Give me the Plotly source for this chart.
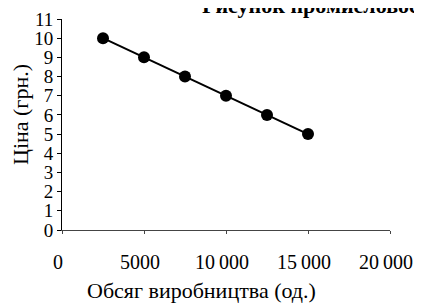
import plotly.graph_objects as go

quantity = [2500, 5000, 7500, 10000, 12500, 15000]
price = [10, 9, 8, 7, 6, 5]
x_tickvals = [0, 5000, 10000, 15000, 20000]
x_ticktext = ["0", "5000", "10\u2009000", "15\u2009000", "20\u2009000"]
y_tickvals = list(range(0, 12))

SERIF = "Liberation Serif, Times New Roman, serif"

# page has an 8px body margin; layout coords below compensate for it
L, R, T, B = 54, 40, 11, 82
PW, PH = 422 - L - R, 304 - T - B


def px(xl):
    return (xl - L) / PW


def py(yl):
    return (T + PH - yl) / PH


fig = go.Figure()
fig.add_trace(go.Scatter(
    x=quantity, y=price, mode="lines+markers",
    line=dict(color="black", width=2),
    marker=dict(color="black", size=12),
    showlegend=False, cliponaxis=False,
))

fig.update_layout(
    template="none",
    width=422, height=304,
    margin=dict(l=L, r=R, t=T, b=B),
    paper_bgcolor="white", plot_bgcolor="white",
    font=dict(family=SERIF, color="black"),
    xaxis=dict(
        range=[0, 20000], tickvals=x_tickvals, ticktext=x_ticktext,
        showgrid=False, zeroline=False, showline=True, linecolor="#444", linewidth=1,
        ticks="outside", ticklen=3, tickcolor="#444", automargin=False,
        tickfont=dict(family=SERIF, size=20, color="black"),
        ticklabelstandoff=11, ticklabelshift=-4,
    ),
    yaxis=dict(
        range=[0, 11], tickvals=y_tickvals,
        showgrid=False, zeroline=False, showline=True, linecolor="black", linewidth=1,
        ticks="outside", ticklen=4, tickcolor="black", automargin=False,
        tickfont=dict(family=SERIF, size=19, color="black"),
        ticklabelstandoff=0,
    ),
    annotations=[
        dict(text="Обсяг виробництва (од.)", xref="paper", yref="paper",
             x=px(193), y=py(282), xanchor="center", yanchor="middle",
             showarrow=False, font=dict(family=SERIF, size=22, color="black")),
        dict(text="Ціна (грн.)", xref="paper", yref="paper",
             x=px(12), y=py(107), xanchor="center", yanchor="middle",
             textangle=-90, showarrow=False, font=dict(family=SERIF, size=22, color="black")),
        dict(text="<b>Рисунок промисловості</b>", xref="paper", yref="paper",
             x=px(192), y=py(-2), xanchor="left", yanchor="middle",
             showarrow=False, font=dict(family=SERIF, size=22, color="black")),
    ],
)

fig.write_html("out.html")
